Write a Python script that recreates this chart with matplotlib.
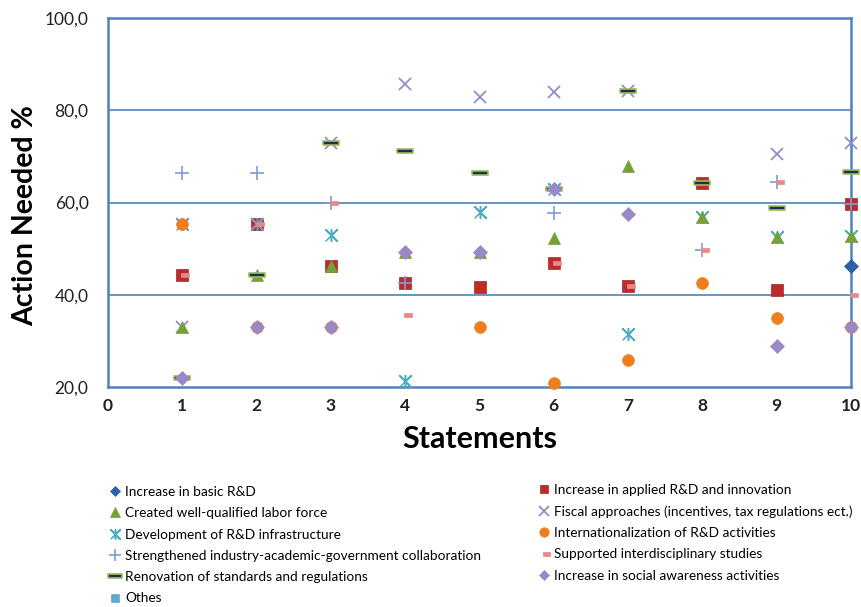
import numpy as np
import matplotlib
matplotlib.use("Agg")
import matplotlib.pyplot as plt
from matplotlib.lines import Line2D

nan = np.nan

statements = [1, 2, 3, 4, 5, 6, 7, 8, 9, 10]

basic_rd = [nan, nan, nan, nan, nan, nan, nan, nan, nan, 46.3]
applied_rd = [44.3, 55.3, 46.3, 42.6, 41.6, 46.9, 42.0, 64.2, 41.0, 59.7]
labor_force = [33.0, 44.3, 46.3, 49.3, 49.3, 52.3, 68.0, 56.8, 52.5, 52.8]
fiscal = [33.0, 55.3, 73.0, 85.7, 82.9, 84.0, 84.2, nan, 70.5, 73.0]
infrastructure = [55.3, 55.3, 53.0, 21.3, 58.0, 62.9, 31.5, 56.8, 52.5, 52.8]
internationalization = [55.3, 33.0, 33.0, nan, 33.0, 20.9, 25.9, 42.6, 35.0, 33.0]
collaboration = [66.4, 66.4, 60.0, 42.6, nan, 57.7, nan, 49.7, 64.5, 59.7]
interdisciplinary = [44.3, 55.3, 60.0, 35.6, nan, 46.9, 42.0, 49.7, 64.5, 39.9]
renovation = [22.0, 44.3, 73.0, 71.2, 66.4, 62.9, 84.2, 64.2, 58.8, 66.6]
social = [22.0, 33.0, 33.0, 49.3, 49.3, 62.9, 57.5, nan, 28.9, 33.0]
others = [nan] * 10

y_ticks = [20, 40, 60, 80, 100]
x_ticks = [0, 1, 2, 3, 4, 5, 6, 7, 8, 9, 10]

FONT = ["Lato", "DejaVu Sans"]
plt.rcParams["font.family"] = FONT

# marker shapes
star = [(-1, -1), (1, 1), (0, 0), (-1, 1), (1, -1), (0, 0), (0, 1), (0, -1), (0, 0)]
wide_bar = [(-1, -0.28), (1, -0.28), (1, 0.28), (-1, 0.28), (-1, -0.28)]
short_bar = [(-0.15, -0.32), (1, -0.32), (1, 0.32), (-0.15, 0.32), (-0.15, -0.32)]

series = {
    "basic": dict(y=basic_rd, label="Increase in basic R&D", marker="D", ms=7,
                  mfc="#2E5FA8", mec="#2E5FA8", mew=0.5),
    "applied": dict(y=applied_rd, label="Increase in applied R&D and innovation", marker="s", ms=8,
                    mfc="#BE2B2B", mec="#A52424", mew=0.5),
    "infra": dict(y=infrastructure, label="Development of R&D infrastructure", marker=star, ms=8.5,
                  mfc="none", mec="#4BACC6", mew=1.1),
    "fiscal": dict(y=fiscal, label="Fiscal approaches (incentives, tax regulations ect.)", marker="x", ms=9,
                   mfc="none", mec="#9A88C8", mew=1.3),
    "labor": dict(y=labor_force, label="Created well-qualified labor force", marker="^", ms=9,
                  mfc="#77A03A", mec="#77A03A", mew=0.5),
    "intl": dict(y=internationalization, label="Internationalization of R&D activities", marker="o", ms=8.5,
                 mfc="#EF7F1E", mec="#EF7F1E", mew=0.5),
    "collab": dict(y=collaboration, label="Strengthened industry-academic-government collaboration", marker="+",
                   ms=10, mfc="none", mec="#7F9CD4", mew=1.2),
    "interdisc": dict(y=interdisciplinary, label="Supported interdisciplinary studies", marker=short_bar, ms=10,
                      mfc="#E58A8A", mec="#E58A8A", mew=0.5),
    "renov": dict(y=renovation, label="Renovation of standards and regulations", marker=wide_bar, ms=12,
                  mfc="#1F2F5C", mec="#9BBB59", mew=1.2),
    "social": dict(y=social, label="Increase in social awareness activities", marker="D", ms=7,
                   mfc="#9A88C8", mec="#9A88C8", mew=0.5),
    "others": dict(y=others, label="Othes", marker="s", ms=7,
                   mfc="#5FA8CF", mec="#5FA8CF", mew=0.5),
}

fig = plt.figure(figsize=(8.61, 6.07), dpi=100)
ax = fig.add_axes([108 / 861, 1 - 387 / 607, (851 - 108) / 861, (387 - 18) / 607])

for i, (key, s) in enumerate(series.items()):
    ax.plot(statements, s["y"], linestyle="none", marker=s["marker"], markersize=s["ms"],
            markerfacecolor=s["mfc"], markeredgecolor=s["mec"], markeredgewidth=s["mew"],
            label=s["label"], clip_on=False, zorder=3 + i)

ax.set_xlim(0, 10)
ax.set_ylim(20, 100)
ax.set_yticks(y_ticks)
ax.set_yticklabels([f"{v:.1f}".replace(".", ",") for v in y_ticks])
ax.set_xticks(x_ticks)
ax.set_xticklabels([str(v) for v in x_ticks])
ax.tick_params(length=0, labelsize=12.5, colors="#222222")
ax.tick_params(axis="y", pad=14)
ax.tick_params(axis="x", pad=8)
for lab in ax.get_xticklabels():
    lab.set_fontweight("bold")

for spine in ax.spines.values():
    spine.set_color("#4F81BD")
    spine.set_linewidth(1.8)
for gy in [40, 60, 80]:
    ax.axhline(gy, color="#4F81BD", linewidth=1.2, zorder=1)

ax.set_xlabel("Statements", fontsize=22, fontweight="bold")
ax.xaxis.set_label_coords(0.5, -0.102)
ax.set_ylabel("Action Needed %", fontsize=20.5, fontweight="bold")
ax.yaxis.set_label_coords(-0.094, 0.465)

left_keys = ["basic", "labor", "infra", "collab", "renov", "others"]
right_keys = ["applied", "fiscal", "intl", "interdisc", "social"]

legend_style = dict(frameon=False, fontsize=9.8, handlelength=0.8, handletextpad=0.3,
                    labelspacing=0.68, borderaxespad=0, borderpad=0, markerscale=0.8)


def legend_handle(key):
    s = series[key]
    return Line2D([], [], linestyle="none", marker=s["marker"], markersize=s["ms"],
                  markerfacecolor=s["mfc"], markeredgecolor=s["mec"], markeredgewidth=s["mew"])


fig.legend([legend_handle(k) for k in left_keys], [series[k]["label"] for k in left_keys],
           loc="upper left", bbox_to_anchor=(110 / 861, 1 - 486 / 607), **legend_style)
fig.legend([legend_handle(k) for k in right_keys], [series[k]["label"] for k in right_keys],
           loc="upper left", bbox_to_anchor=(539 / 861, 1 - 484 / 607), **legend_style)

fig.savefig("out.png", dpi=100)
